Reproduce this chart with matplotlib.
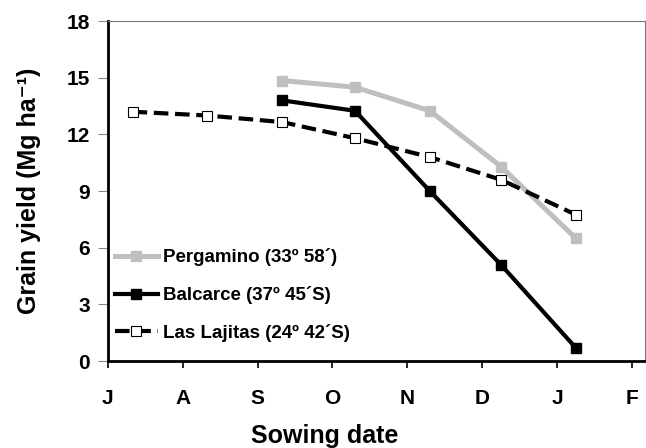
import numpy as np
import matplotlib
matplotlib.use('Agg')
import matplotlib.pyplot as plt

plt.rcParams['font.family'] = ['Liberation Sans', 'DejaVu Sans']
plt.rcParams['font.weight'] = 'bold'

# sowing dates as months after 1 July
months = ['J', 'A', 'S', 'O', 'N', 'D', 'J', 'F']
x_lajitas = [0.33, 1.33, 2.33, 3.3, 4.3, 5.25, 6.25]
y_lajitas = [13.2, 13.0, 12.65, 11.8, 10.8, 9.6, 7.75]
x_pergamino = [2.33, 3.3, 4.3, 5.25, 6.25]
y_pergamino = [14.85, 14.5, 13.25, 10.3, 6.5]
x_balcarce = [2.33, 3.3, 4.3, 5.25, 6.25]
y_balcarce = [13.8, 13.25, 9.0, 5.1, 0.7]


def main():
    fig = plt.figure(figsize=(6.46, 4.48), dpi=100)
    ax = fig.add_axes([0.167, 0.194, 0.831, 0.759])

    ax.plot(x_pergamino, y_pergamino, color='#BFBFBF', linewidth=3.6, marker='s',
            markersize=7, markerfacecolor='#BFBFBF', markeredgecolor='#BFBFBF',
            label='Pergamino (33º 58´)')
    ax.plot(x_balcarce, y_balcarce, color='black', linewidth=3, marker='s',
            markersize=7, markerfacecolor='black', markeredgecolor='black',
            label='Balcarce (37º 45´S)')
    ax.plot(x_lajitas, y_lajitas, color='black', linewidth=3, marker='s',
            markersize=7, markerfacecolor='white', markeredgecolor='black',
            markeredgewidth=0.8, dashes=(3.5, 1.6),
            label='Las Lajitas (24º 42´S)')

    ax.set_xlim(0, 7.17)
    ax.set_ylim(0, 18)
    ax.set_xticks(np.arange(len(months)))
    ax.set_xticklabels(months, fontsize=15, fontweight='bold')
    ax.set_yticks(np.arange(0, 19, 3))
    ax.set_yticklabels([str(v) for v in range(0, 19, 3)], fontsize=15, fontweight='bold')
    ax.tick_params(axis='x', direction='out', length=5, width=1.2, pad=15)
    ax.tick_params(axis='y', direction='out', length=7, width=0.8, color='#888888', pad=6)

    for side in ['left', 'bottom']:
        ax.spines[side].set_linewidth(2)
        ax.spines[side].set_color('black')
    for side in ['top', 'right']:
        ax.spines[side].set_linewidth(0.8)
        ax.spines[side].set_color('#777777')

    ax.set_xlabel('Sowing date', fontsize=18, fontweight='bold')
    ax.xaxis.set_label_coords(0.404, -0.185)
    ax.set_ylabel('Grain yield (Mg ha⁻¹)', fontsize=18, fontweight='bold', labelpad=18)

    ax.legend(loc='lower left', bbox_to_anchor=(-0.012, 0.018), frameon=False,
              prop={'family': ['Liberation Sans', 'DejaVu Sans'], 'weight': 'bold', 'size': 13.5},
              handlelength=2.3, handletextpad=0.3, labelspacing=1.05, borderaxespad=0.3)

    plt.savefig('out.png', dpi=100)


if __name__ == '__main__':
    main()
